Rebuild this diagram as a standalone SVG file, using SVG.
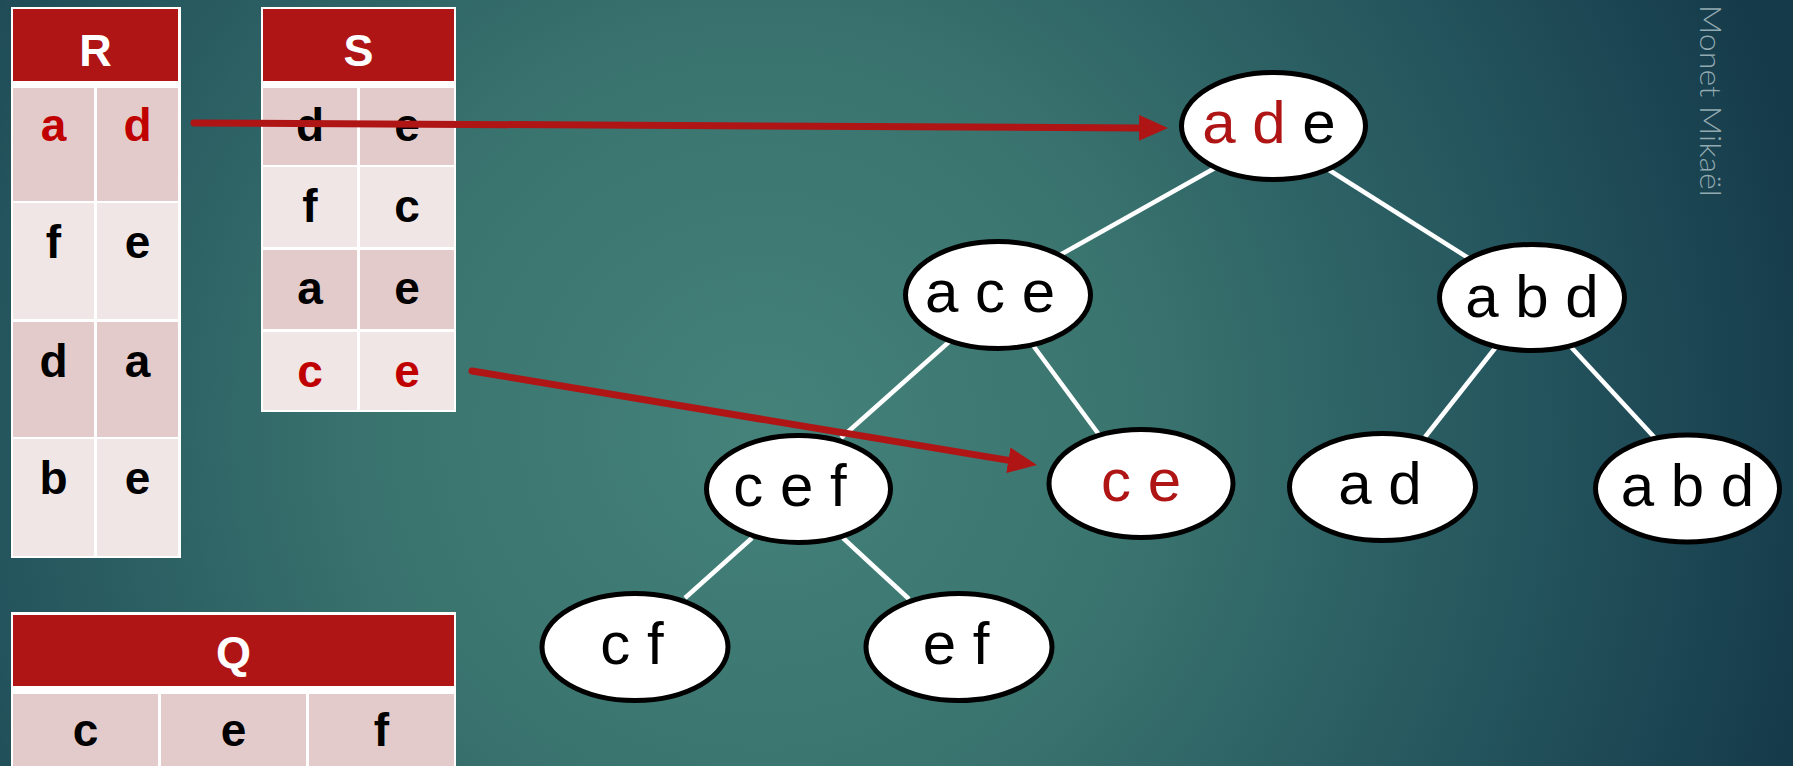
<svg xmlns="http://www.w3.org/2000/svg" width="1793" height="766" viewBox="0 0 1793 766">
  <defs>
    <radialGradient id="bg" gradientUnits="userSpaceOnUse" cx="760" cy="430" r="1080">
      <stop offset="0" stop-color="#44827A"/>
      <stop offset="0.35" stop-color="#3A746F"/>
      <stop offset="0.7" stop-color="#25565E"/>
      <stop offset="1" stop-color="#153A4A"/>
    </radialGradient>
    <marker id="arrow" markerUnits="userSpaceOnUse" markerWidth="32" markerHeight="28" refX="2" refY="13" orient="auto">
      <path d="M0,0 L29,13 L0,26 z" fill="#B01515"/>
    </marker>
    <style>
      .frame { fill: #FFFFFF; }
      .head { fill: #B01515; }
      .dark { fill: #E4CBCB; }
      .light { fill: #F1E6E6; }
      .htxt { font-family: "Liberation Sans", Arial, sans-serif; font-weight: bold; font-size: 45px; fill: #FFFFFF; text-anchor: middle; }
      .ctxt { font-family: "Liberation Sans", Arial, sans-serif; font-weight: bold; font-size: 46px; fill: #000000; text-anchor: middle; }
      .ctxt.hot { fill: #C00000; }
      .edge { stroke: #FFFFFF; stroke-width: 4.5; fill: none; }
      .node ellipse { fill: #FFFFFF; stroke: #000000; stroke-width: 5; }
      .ntxt { font-family: "Liberation Sans", Arial, sans-serif; font-size: 60px; fill: #000000; text-anchor: middle; }
      .red { fill: #B01515; }
      .link { stroke: #B01515; stroke-width: 7; stroke-linecap: round; fill: none; marker-end: url(#arrow); }
      .mark { font-family: "Lato", "Liberation Sans", sans-serif; font-weight: 300; font-size: 30px; fill: #93AAB1; }
    </style>
  </defs>

  <!-- slide background -->
  <rect x="0" y="0" width="1793" height="766" fill="url(#bg)"/>

  <!-- vertical author tag -->
  <text class="mark" transform="translate(1700,5) rotate(90)" x="0" y="0" textLength="192" lengthAdjust="spacingAndGlyphs">Monet Mikaël</text>

  <!-- relation R -->
  <g id="table-R">
    <rect class="frame" x="11" y="7" width="170" height="551"/>
    <rect class="head" x="13" y="9" width="165" height="72"/>
    <text class="htxt" x="95.5" y="66">R</text>
    <rect class="dark" x="13" y="88" width="81" height="113"/>
    <rect class="dark" x="97" y="88" width="81" height="113"/>
    <rect class="light" x="13" y="203" width="81" height="116"/>
    <rect class="light" x="97" y="203" width="81" height="116"/>
    <rect class="dark" x="13" y="322" width="81" height="115"/>
    <rect class="dark" x="97" y="322" width="81" height="115"/>
    <rect class="light" x="13" y="439" width="81" height="117"/>
    <rect class="light" x="97" y="439" width="81" height="117"/>
    <text class="ctxt hot" x="53.5" y="141">a</text>
    <text class="ctxt hot" x="137.5" y="141">d</text>
    <text class="ctxt" x="53.5" y="258">f</text>
    <text class="ctxt" x="137.5" y="258">e</text>
    <text class="ctxt" x="53.5" y="377">d</text>
    <text class="ctxt" x="137.5" y="377">a</text>
    <text class="ctxt" x="53.5" y="494">b</text>
    <text class="ctxt" x="137.5" y="494">e</text>
  </g>

  <!-- relation S -->
  <g id="table-S">
    <rect class="frame" x="261" y="7" width="195" height="405"/>
    <rect class="head" x="263" y="9" width="191" height="72"/>
    <text class="htxt" x="358.5" y="66">S</text>
    <rect class="dark" x="263" y="88" width="94" height="77"/>
    <rect class="dark" x="360" y="88" width="94" height="77"/>
    <rect class="light" x="263" y="167" width="94" height="80"/>
    <rect class="light" x="360" y="167" width="94" height="80"/>
    <rect class="dark" x="263" y="250" width="94" height="79"/>
    <rect class="dark" x="360" y="250" width="94" height="79"/>
    <rect class="light" x="263" y="332" width="94" height="78"/>
    <rect class="light" x="360" y="332" width="94" height="78"/>
    <text class="ctxt" x="310" y="141">d</text>
    <text class="ctxt" x="407" y="141">e</text>
    <text class="ctxt" x="310" y="222">f</text>
    <text class="ctxt" x="407" y="222">c</text>
    <text class="ctxt" x="310" y="304">a</text>
    <text class="ctxt" x="407" y="304">e</text>
    <text class="ctxt hot" x="310" y="387">c</text>
    <text class="ctxt hot" x="407" y="387">e</text>
  </g>

  <!-- relation Q -->
  <g id="table-Q">
    <rect class="frame" x="11" y="612" width="445" height="160"/>
    <rect class="head" x="13" y="615" width="441" height="71"/>
    <text class="htxt" x="233.5" y="668">Q</text>
    <rect class="dark" x="13" y="694" width="145" height="80"/>
    <rect class="dark" x="161" y="694" width="145" height="80"/>
    <rect class="dark" x="309" y="694" width="145" height="80"/>
    <text class="ctxt" x="85.5" y="746">c</text>
    <text class="ctxt" x="233.5" y="746">e</text>
    <text class="ctxt" x="381.5" y="746">f</text>
  </g>

  <!-- tree edges -->
  <g id="edges">
    <line class="edge" x1="1215" y1="168" x2="1060" y2="255"/>
    <line class="edge" x1="1329" y1="170" x2="1470" y2="259"/>
    <line class="edge" x1="950" y1="341" x2="841" y2="438"/>
    <line class="edge" x1="1032" y1="344" x2="1100" y2="436"/>
    <line class="edge" x1="1496" y1="347" x2="1425" y2="437"/>
    <line class="edge" x1="1571" y1="347" x2="1655" y2="438"/>
    <line class="edge" x1="752" y1="538" x2="685" y2="598"/>
    <line class="edge" x1="843" y1="538" x2="909" y2="599"/>
  </g>

  <!-- tree nodes -->
  <g id="node-ade" class="node">
    <ellipse cx="1273.5" cy="126" rx="92" ry="53.5"/>
    <text class="ntxt" x="1269" y="143"><tspan class="red">a d</tspan> e</text>
  </g>
  <g id="node-ace" class="node">
    <ellipse cx="998" cy="295" rx="92.5" ry="53.5"/>
    <text class="ntxt" x="990" y="312">a c e</text>
  </g>
  <g id="node-abd" class="node">
    <ellipse cx="1532" cy="297.5" rx="92.5" ry="53"/>
    <text class="ntxt" x="1532" y="317">a b d</text>
  </g>
  <g id="node-cef" class="node">
    <ellipse cx="798.5" cy="489" rx="92" ry="53.5"/>
    <text class="ntxt" x="790" y="506">c e f</text>
  </g>
  <g id="node-ce" class="node">
    <ellipse cx="1141" cy="483.5" rx="92" ry="54"/>
    <text class="ntxt red" x="1141" y="501">c e</text>
  </g>
  <g id="node-ad" class="node">
    <ellipse cx="1382.5" cy="487" rx="93" ry="53.5"/>
    <text class="ntxt" x="1380" y="504">a d</text>
  </g>
  <g id="node-abd-2" class="node">
    <ellipse cx="1687.5" cy="488.5" rx="92" ry="53.5"/>
    <text class="ntxt" x="1687.5" y="506">a b d</text>
  </g>
  <g id="node-cf" class="node">
    <ellipse cx="635" cy="647" rx="93" ry="53.5"/>
    <text class="ntxt" x="632" y="664">c f</text>
  </g>
  <g id="node-ef" class="node">
    <ellipse cx="959" cy="647" rx="93" ry="53.5"/>
    <text class="ntxt" x="956" y="664">e f</text>
  </g>

  <!-- join pointers -->
  <g id="pointers">
    <line class="link" x1="194" y1="123" x2="1141" y2="127.9"/>
    <line class="link" x1="472" y1="371" x2="1010.3" y2="460.6"/>
  </g>
</svg>
